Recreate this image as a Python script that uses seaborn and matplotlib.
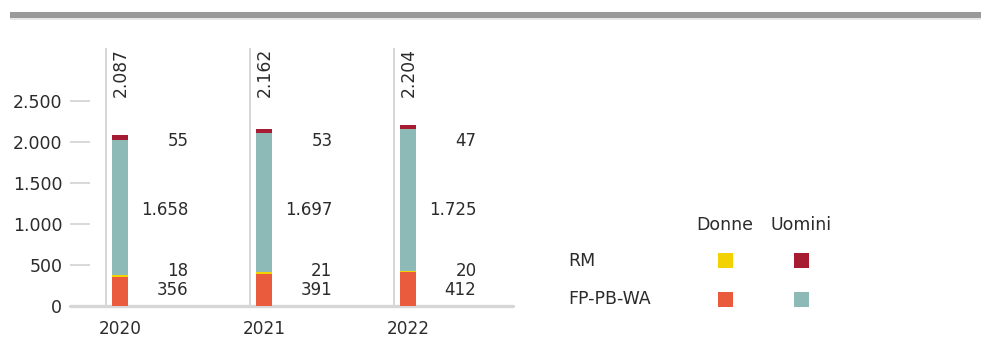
import numpy as np
import pandas as pd
import matplotlib
matplotlib.use('Agg')
import matplotlib.pyplot as plt
import seaborn as sns
from matplotlib.patches import Rectangle
from matplotlib.ticker import FuncFormatter

# dati
years = ['2020', '2021', '2022']
fp_donne = [356, 391, 412]      # FP-PB-WA Donne
rm_donne = [18, 21, 20]         # RM Donne
fp_uomini = [1658, 1697, 1725]  # FP-PB-WA Uomini
rm_uomini = [55, 53, 47]        # RM Uomini
totals = [2087, 2162, 2204]

c_fp_d = '#EA5A3C'
c_rm_d = '#F2D200'
c_fp_u = '#8DB9B7'
c_rm_u = '#A51C33'
txt = '#2b2b2b'
grey = '#d6d6d6'

sns.set_style('white')
plt.rcParams['font.family'] = ['DejaVu Sans']

def fmt(v):
    return f"{v:,}".replace(',', '.')

df = pd.DataFrame({'anno': years, 'fp_d': fp_donne, 'rm_d': rm_donne,
                   'fp_u': fp_uomini, 'rm_u': rm_uomini})
df['c1'] = df['fp_d']
df['c2'] = df['c1'] + df['rm_d']
df['c3'] = df['c2'] + df['fp_u']
df['c4'] = df['c3'] + df['rm_u']

W, H = 981, 362
fig = plt.figure(figsize=(W / 100, H / 100), dpi=100)
ax = fig.add_axes([90 / W, (H - 306) / H, 390 / W, 258 / H])

# barre sovrapposte (dall'alto verso il basso)
for col, c in [('c4', c_rm_u), ('c3', c_fp_u), ('c2', c_rm_d), ('c1', c_fp_d)]:
    sns.barplot(data=df, x='anno', y=col, order=years, color=c, width=0.115,
                saturation=1, ax=ax, linewidth=0)

ax.set_xlim(-0.21, 2.5)
ax.set_ylim(0, 3150)
ax.set_xlabel('')
ax.set_ylabel('')
ax.set_yticks(np.arange(0, 2501, 500))
ax.yaxis.set_major_formatter(FuncFormatter(lambda v, p: fmt(int(v))))
ax.tick_params(axis='y', left=True, length=14.4, width=1.3, color=grey, pad=5.5,
               labelsize=12.5, labelcolor=txt)
ax.tick_params(axis='x', bottom=False, length=0, pad=10, labelsize=12.2, labelcolor=txt)
ax.yaxis.get_major_ticks()[4].tick1line.set_color('#7a7a7a')
for s in ax.spines.values():
    s.set_visible(False)
ax.axhline(0, xmin=-20 / 390, xmax=423 / 390, color=grey, lw=2.4, clip_on=False, zorder=0)

pos = np.arange(len(years))
ax.vlines(pos - 0.1, 0, 3150, color=grey, lw=1.4, zorder=0)

for i in range(len(years)):
    ax.text(i + 0.005, 3150, fmt(totals[i]), rotation=90, ha='center', va='top',
            fontsize=12.3, color=txt)
    x = i + 0.475
    ax.text(x, 2010, fmt(rm_uomini[i]), ha='right', va='center', fontsize=12, color=txt)
    ax.text(x, 1170, fmt(fp_uomini[i]), ha='right', va='center', fontsize=12, color=txt)
    ax.text(x, 430, fmt(rm_donne[i]), ha='right', va='center', fontsize=12, color=txt)
    ax.text(x, 195, fmt(fp_donne[i]), ha='right', va='center', fontsize=12, color=txt)

# barra grigia in alto
fig.patches.append(Rectangle((10 / W, (H - 18) / H), 971 / W, 6 / H,
                             transform=fig.transFigure, color='#9a9a9a', lw=0))
fig.patches.append(Rectangle((10 / W, (H - 20) / H), 971 / W, 2 / H,
                             transform=fig.transFigure, color='#e8e8e8', lw=0))

# legenda
fs = 12.5
fig.text(725 / W, 1 - 225 / H, 'Donne', ha='center', va='center', fontsize=fs, color=txt)
fig.text(801 / W, 1 - 225 / H, 'Uomini', ha='center', va='center', fontsize=fs, color=txt)
fig.text(568 / W, 1 - 261 / H, 'RM', ha='left', va='center', fontsize=fs, color=txt)
fig.text(568 / W, 1 - 299 / H, 'FP-PB-WA', ha='left', va='center', fontsize=fs, color=txt)
sq = 15
for cx, cy, c in [(725, 260, c_rm_d), (801, 260, c_rm_u), (725, 299, c_fp_d), (801, 299, c_fp_u)]:
    fig.patches.append(Rectangle(((cx - sq / 2) / W, 1 - (cy + sq / 2) / H), sq / W, sq / H,
                                 transform=fig.transFigure, color=c, lw=0))

fig.savefig('out.png', dpi=100)
